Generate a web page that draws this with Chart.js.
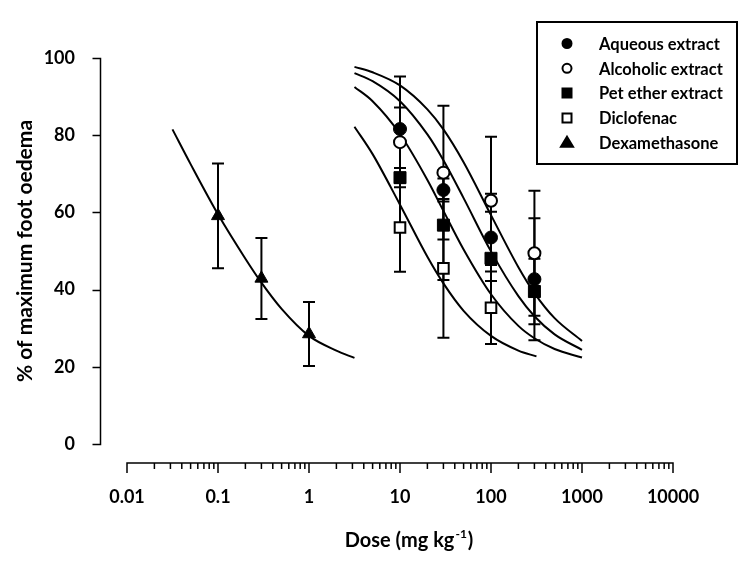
<!DOCTYPE html>
<html lang="en">
<head>
    <meta charset="UTF-8">
    <script src="https://cdn.jsdelivr.net/npm/chart.js"></script>
    <title>Foot oedema dose response</title>
    <style>
        body { margin: 0; background: #fff; }
    </style>
</head>
<body>
    <canvas id="myChart" width="752" height="574"></canvas>
<script>
    const doses = [10, 30, 100, 300];
    const aqueous = [81.6, 65.8, 53.5, 42.7];
    const aqueousErr = [13.6, 3.0, 11.3, 15.8];
    const alcoholic = [78.2, 70.3, 63.0, 49.4];
    const alcoholicErr = [9.0, 17.3, 16.6, 16.2];
    const petEther = [69.0, 56.7, 48.1, 39.5];
    const petEtherErr = [2.5, 14.2, 12.1, 8.5];
    const dicloDoses = [10, 30, 100];
    const diclofenac = [56.1, 45.5, 35.3];
    const diclofenacErr = [11.5, 18.0, 9.4];
    const dexaDoses = [0.1, 0.3, 1];
    const dexamethasone = [59.1, 42.9, 28.5];
    const dexamethasoneErr = [13.6, 10.5, 8.3];

    // fitted curves
    const fitDoses = [3.16, 5, 10, 20, 30, 50, 100, 200, 300, 500, 1000];
    const alcoholicFit = [97.7, 96.3, 92.9, 86.7, 81.5, 73.0, 59.3, 45.8, 39.1, 32.6, 26.7];
    const aqueousFit = [96.1, 94.0, 88.8, 80.2, 73.5, 63.7, 49.9, 38.3, 33.1, 28.4, 24.4];
    const petEtherFit = [92.5, 88.8, 80.3, 68.4, 60.4, 50.4, 38.8, 30.6, 27.4, 24.6, 22.4];
    const dicloFitDoses = [3.16, 5, 10, 20, 30, 50, 100, 200, 316];
    const diclofenacFit = [82.2, 75.1, 62.0, 48.5, 41.6, 34.5, 28.0, 24.2, 22.7];
    const dexaFitDoses = [0.0316, 0.05, 0.1, 0.2, 0.3, 0.5, 1, 2, 3.16];
    const dexamethasoneFit = [81.5, 72.5, 59.5, 48.0, 41.8, 35.0, 28.0, 24.2, 22.3];

    const xTicks = [0.01, 0.1, 1, 10, 100, 1000, 10000];
    const xTickLabels = ['0.01', '0.1', '1', '10', '100', '1000', '10000'];
    const yTicks = [0, 20, 40, 60, 80, 100];

    const FONT = 'Lato';
    const pts = (xs, ys) => xs.map((x, i) => ({x: x, y: ys[i]}));

    function marker(label, xs, ys, err, style, filled, radius) {
        return {
            label: label,
            data: pts(xs, ys),
            err: err,
            showLine: false,
            pointStyle: style,
            filled: filled,
            pointRadius: radius,
            pointHoverRadius: radius,
            pointBackgroundColor: filled ? '#000' : '#fff',
            pointBorderColor: '#000',
            pointBorderWidth: filled ? 1 : 2,
            clip: false
        };
    }
    function curve(xs, ys) {
        return {
            data: pts(xs, ys),
            showLine: true,
            borderColor: '#000',
            borderWidth: 2,
            pointRadius: 0,
            cubicInterpolationMode: 'monotone',
            clip: false
        };
    }

    const datasets = [
        marker('Aqueous extract', doses, aqueous, aqueousErr, 'circle', true, 6.5),
        marker('Alcoholic extract', doses, alcoholic, alcoholicErr, 'circle', false, 6),
        marker('Pet ether extract', doses, petEther, petEtherErr, 'rect', true, 8.5),
        marker('Diclofenac', dicloDoses, diclofenac, diclofenacErr, 'rect', false, 7.5),
        marker('Dexamethasone', dexaDoses, dexamethasone, dexamethasoneErr, 'triangle', true, 7.5),
        curve(fitDoses, alcoholicFit),
        curve(fitDoses, aqueousFit),
        curve(fitDoses, petEtherFit),
        curve(dicloFitDoses, diclofenacFit),
        curve(dexaFitDoses, dexamethasoneFit)
    ];
    const firstCurve = 5;

    function drawMarker(ctx, style, x, y, s, filled) {
        ctx.beginPath();
        if (style === 'circle') {
            ctx.arc(x, y, s, 0, Math.PI * 2);
        } else if (style === 'rect') {
            ctx.rect(x - s, y - s, s * 2, s * 2);
        } else {
            ctx.moveTo(x, y - s * 1.1);
            ctx.lineTo(x + s * 1.1, y + s * 0.75);
            ctx.lineTo(x - s * 1.1, y + s * 0.75);
            ctx.closePath();
        }
        ctx.fillStyle = filled ? '#000' : '#fff';
        ctx.fill();
        ctx.lineWidth = 2;
        ctx.strokeStyle = '#000';
        ctx.stroke();
    }

    // axes are drawn detached from the plot area, like the original
    const offsetAxes = {
        id: 'offsetAxes',
        beforeDatasetsDraw(chart) {
            const ctx = chart.ctx, xs = chart.scales.x, ys = chart.scales.y, a = chart.chartArea;
            const ax = a.left - 26.5;
            const ay = a.bottom + 19;
            ctx.save();
            ctx.strokeStyle = '#000';
            ctx.lineWidth = 1.5;
            ctx.beginPath();
            ctx.moveTo(ax, ys.getPixelForValue(0));
            ctx.lineTo(ax, ys.getPixelForValue(100));
            yTicks.forEach(v => {
                const py = Math.round(ys.getPixelForValue(v)) + 0.5;
                ctx.moveTo(ax + 0.75, py);
                ctx.lineTo(ax - 8, py);
            });
            ctx.moveTo(xs.getPixelForValue(xTicks[0]), ay);
            ctx.lineTo(xs.getPixelForValue(xTicks[xTicks.length - 1]), ay);
            xTicks.forEach((v, i) => {
                const px = xs.getPixelForValue(v);
                ctx.moveTo(px, ay - 0.75);
                ctx.lineTo(px, ay + 10);
                if (i < xTicks.length - 1) {
                    for (let m = 2; m <= 9; m++) {
                        const mx = xs.getPixelForValue(v * m);
                        ctx.moveTo(mx, ay);
                        ctx.lineTo(mx, ay + 6);
                    }
                }
            });
            ctx.stroke();

            // x title with superscript
            ctx.fillStyle = '#000';
            ctx.textBaseline = 'alphabetic';
            const main = 'Dose (mg kg', sup = '-1', end = ')';
            const big = 'bold 20px ' + FONT, small = 'bold 12px ' + FONT;
            ctx.font = big;
            const w1 = ctx.measureText(main).width, w3 = ctx.measureText(end).width;
            ctx.font = small;
            const w2 = ctx.measureText(sup).width;
            const cx = (a.left + a.right) / 2 + 8;
            const base = a.bottom + 103;
            let tx = cx - (w1 + w2 + w3) / 2;
            ctx.font = big;
            ctx.fillText(main, tx, base);
            ctx.font = small;
            ctx.fillText(sup, tx + w1 + 1, base - 9);
            ctx.font = big;
            ctx.fillText(end, tx + w1 + w2 + 2, base);
            ctx.restore();
        }
    };

    const errorBars = {
        id: 'errorBars',
        afterDatasetDraw(chart, args) {
            if (args.index !== firstCurve) return;
            const ctx = chart.ctx, xs = chart.scales.x, ys = chart.scales.y;
            ctx.save();
            ctx.strokeStyle = '#000';
            ctx.lineWidth = 2;
            chart.data.datasets.forEach(ds => {
                if (!ds.err) return;
                ds.data.forEach((p, i) => {
                    const px = xs.getPixelForValue(p.x);
                    const top = ys.getPixelForValue(p.y + ds.err[i]);
                    const bot = ys.getPixelForValue(p.y - ds.err[i]);
                    ctx.beginPath();
                    ctx.moveTo(px, top);
                    ctx.lineTo(px, bot);
                    ctx.moveTo(px - 6, top);
                    ctx.lineTo(px + 6, top);
                    ctx.moveTo(px - 6, bot);
                    ctx.lineTo(px + 6, bot);
                    ctx.stroke();
                });
            });
            ctx.restore();
        }
    };

    const legendBox = {
        id: 'legendBox',
        afterDraw(chart) {
            const ctx = chart.ctx, a = chart.chartArea;
            const left = a.right - 136, top = a.top - 36, w = 200, h = 142;
            ctx.save();
            ctx.fillStyle = '#fff';
            ctx.fillRect(left, top, w, h);
            ctx.strokeStyle = '#000';
            ctx.lineWidth = 2;
            ctx.strokeRect(left, top, w, h);
            ctx.font = 'bold 16.5px ' + FONT;
            ctx.textBaseline = 'middle';
            chart.data.datasets.slice(0, firstCurve).forEach((ds, i) => {
                const y = top + 21.5 + i * 24.8;
                const s = ds.pointStyle === 'triangle' ? 5.5 : 4.5;
                drawMarker(ctx, ds.pointStyle, left + 30, y, s, ds.filled);
                ctx.fillStyle = '#000';
                ctx.fillText(ds.label, left + 62, y + 1);
            });
            ctx.restore();
        }
    };

    const ctx = document.getElementById('myChart');
    new Chart(ctx, {
        type: 'scatter',
        data: { datasets: datasets },
        options: {
            responsive: false,
            animation: false,
            devicePixelRatio: 1,
            layout: { padding: { top: 58, right: 79, left: 0, bottom: 0 } },
            plugins: { legend: { display: false }, tooltip: { enabled: false } },
            scales: {
                x: {
                    type: 'logarithmic',
                    min: 0.01,
                    max: 10000,
                    afterBuildTicks: s => { s.ticks = xTicks.map(v => ({value: v})); },
                    afterFit: s => { s.height = 130; },
                    grid: { display: false },
                    border: { display: false },
                    ticks: {
                        callback: (v, i) => xTickLabels[i],
                        autoSkip: false,
                        maxRotation: 0,
                        padding: 34,
                        color: '#000',
                        font: { family: FONT, size: 18, weight: 'bold' }
                    }
                },
                y: {
                    min: 0,
                    max: 100,
                    afterBuildTicks: s => { s.ticks = yTicks.map(v => ({value: v})); },
                    afterFit: s => { s.width = 127; },
                    grid: { display: false },
                    border: { display: false },
                    ticks: {
                        padding: 44,
                        color: '#000',
                        font: { family: FONT, size: 18, weight: 'bold' }
                    },
                    title: {
                        display: true,
                        text: '% of maximum foot oedema',
                        color: '#000',
                        padding: { top: 13, bottom: 0 },
                        font: { family: FONT, size: 21, weight: 'bold' }
                    }
                }
            }
        },
        plugins: [offsetAxes, errorBars, legendBox]
    });
</script>
</body>
</html>
